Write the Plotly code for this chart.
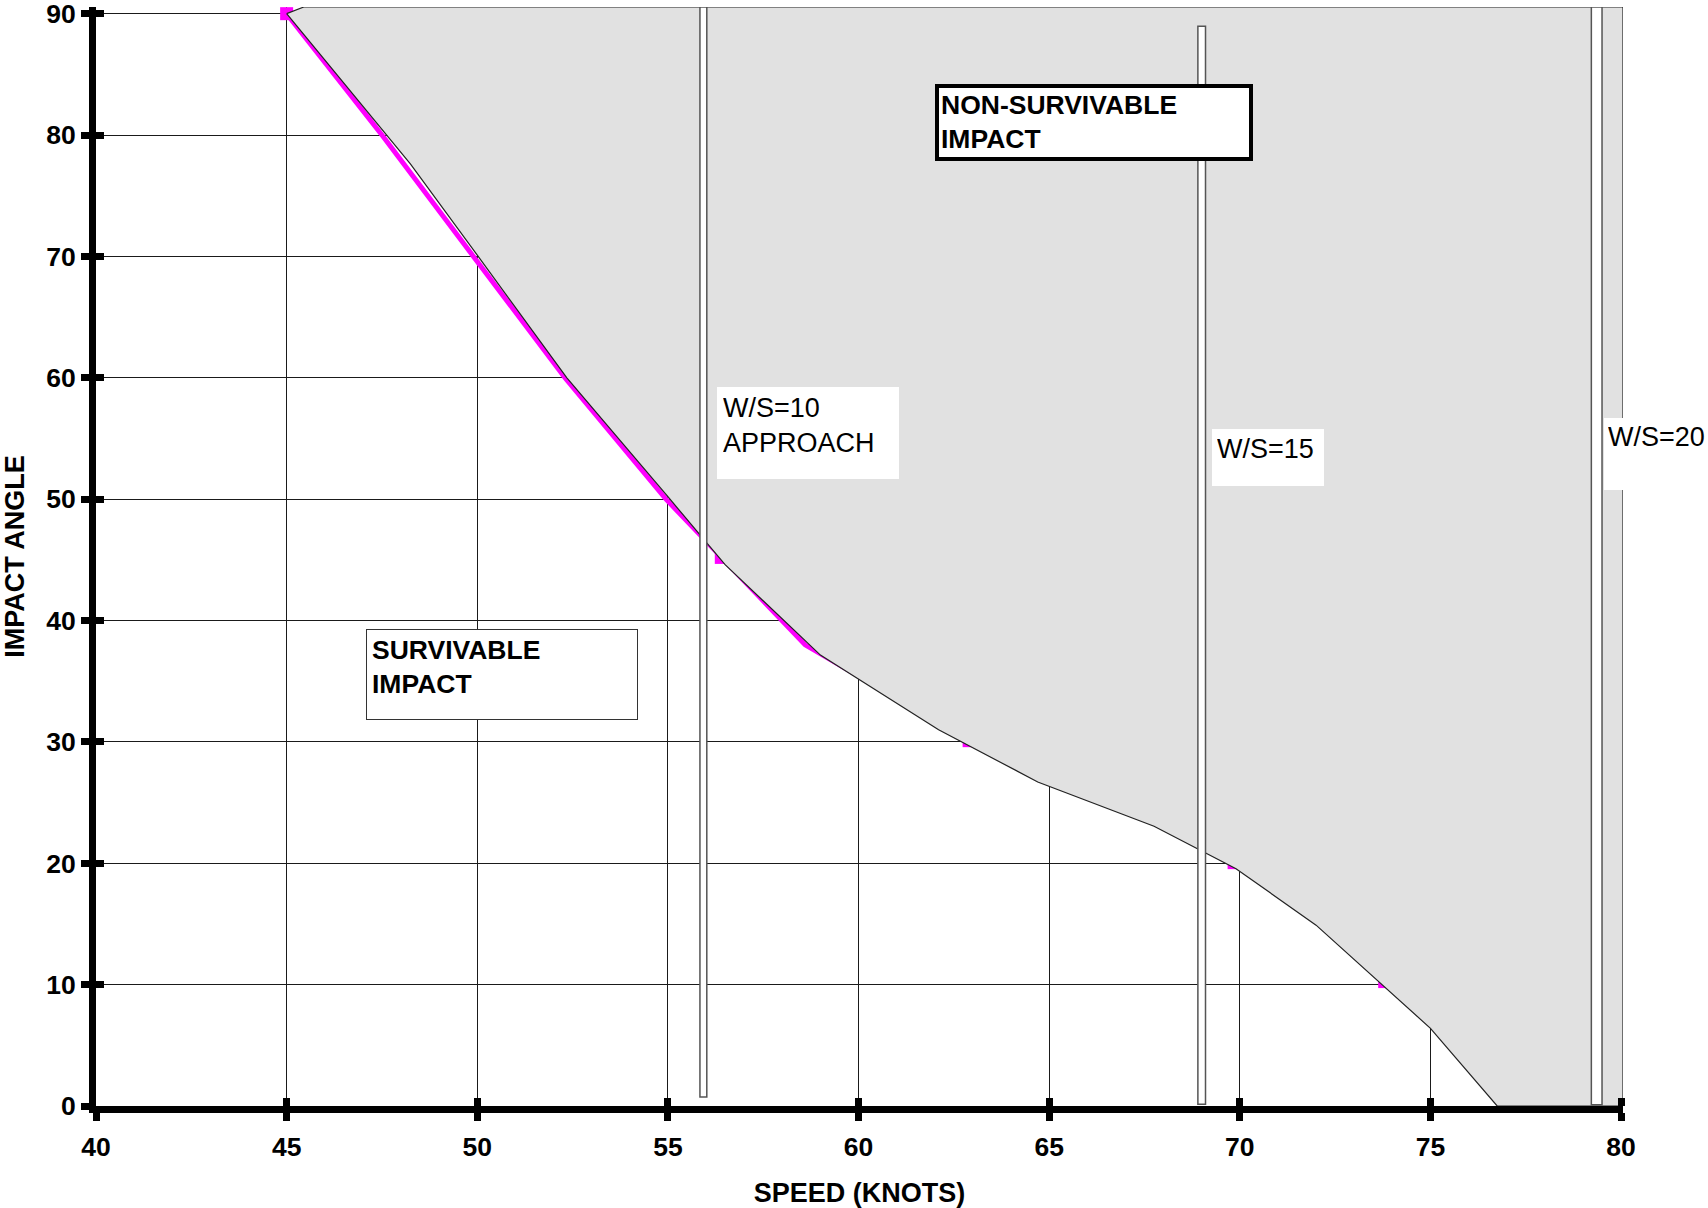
import plotly.graph_objects as go

# ---------------- data ----------------
speed_ticks = [40, 45, 50, 55, 60, 65, 70, 75, 80]
angle_ticks = [0, 10, 20, 30, 40, 50, 60, 70, 80, 90]

# boundary of the non-survivable region (thin black line)
boundary_speed = [45.0, 48.25, 50.0, 52.35, 55.0, 56.5, 59.0, 62.1, 64.7, 67.75, 69.9, 72.0, 75.0, 76.75]
boundary_angle = [90.0, 77.6, 70.1, 60.0, 50.2, 44.6, 37.15, 31.0, 26.7, 23.05, 19.55, 14.9, 6.4, 0.0]
region_top = 90.55
region_right = 80.05
region_top_start = 45.45

# magenta curve and its marked points
curve_speed = [45.0, 47.5, 49.9, 52.3, 54.95, 56.4, 58.6, 62.9, 67.75, 69.85, 72.0, 73.8, 75.0, 77.0]
curve_angle = [90.0, 80.0, 70.0, 60.0, 50.0, 45.2, 38.0, 30.1, 23.5, 20.05, 15.4, 10.25, 6.9, 0.0]
point_speed = [45.0, 56.4, 62.9, 69.85, 73.8, 77.0]
point_angle = [90.0, 45.2, 30.1, 20.05, 10.25, 0.0]

# wing-loading (W/S) bars
ws_labels = ["W/S=10<br>APPROACH<br> ", "W/S=15", "W/S=20"]
ws_left = [55.84, 68.9, 79.22]
ws_right = [56.02, 69.1, 79.5]
ws_bottom = [0.75, 0.15, 0.1]
ws_top = [90.55, 88.97, 90.55]

FONT = "Arial, 'Liberation Sans', sans-serif"

fig = go.Figure()

# magenta curve (drawn first, partially hidden by the region)
fig.add_trace(go.Scatter(
    x=curve_speed, y=curve_angle, mode="lines",
    line=dict(color="#ff00ff", width=5), showlegend=False, hoverinfo="skip"))
fig.add_trace(go.Scatter(
    x=point_speed, y=point_angle, mode="markers", cliponaxis=False,
    marker=dict(symbol="square", size=13, color="#ff00ff"),
    showlegend=False, hoverinfo="skip"))

# non-survivable region
reg_x = boundary_speed + [region_right, region_right, region_top_start, boundary_speed[0]]
reg_y = boundary_angle + [0.0, region_top, region_top, boundary_angle[0]]
fig.add_trace(go.Scatter(
    x=reg_x, y=reg_y, mode="lines", fill="toself", fillcolor="#e1e1e1",
    line=dict(color="#222222", width=1.2), showlegend=False, hoverinfo="skip"))

# empty trace on overlay axes (used for the inner half of the tick marks)
fig.add_trace(go.Scatter(x=[], y=[], xaxis="x2", yaxis="y2", showlegend=False))

# W/S bars
for xl, xr, yb, yt in zip(ws_left, ws_right, ws_bottom, ws_top):
    fig.add_shape(type="rect", xref="x", yref="y", x0=xl, x1=xr, y0=yb, y1=yt,
                  fillcolor="white", line=dict(color="#555555", width=1.5), layer="above")

# labels
def box(text, x, y, w, h, bold, bw, pad, size, bordercolor="black"):
    fig.add_annotation(
        x=x, y=y, xref="x", yref="y", xanchor="left", yanchor="top",
        text=text, showarrow=False, align="left", valign="top",
        width=w, height=h, bgcolor="white", borderwidth=bw, borderpad=pad,
        bordercolor=bordercolor,
        font=dict(family=FONT, size=size, color="black", weight="bold" if bold else "normal"))

box("SURVIVABLE<br>IMPACT", 47.09, 39.27, 260, 79, True, 1, 5, 26.5, "#333333")
box("NON-SURVIVABLE<br>IMPACT", 62.01, 84.24, 306, 65, True, 4, 2, 26.5)
box(ws_labels[0], 56.29, 59.25, 170, 80, False, 0, 6, 27)
box(ws_labels[1], 69.28, 55.77, 102, 47, False, 0, 5, 27)
box(ws_labels[2], 79.56, 56.67, 110, 64, False, 0, 4, 27)

tickfont = dict(family=FONT, size=26.5, color="black", weight="bold")
titlefont = dict(family=FONT, size=27, color="black", weight="bold")

fig.update_layout(
    width=1708, height=1208,
    template="none",
    paper_bgcolor="white", plot_bgcolor="white",
    margin=dict(l=96, r=1708 - 96 - round(38.13 * 40.05), t=7, b=102, pad=0),
    showlegend=False,
    xaxis=dict(
        range=[40, region_right], tickvals=speed_ticks, ticktext=[str(v) for v in speed_ticks],
        showgrid=True, gridcolor="#1a1a1a", gridwidth=1, zeroline=False,
        showline=True, linecolor="black", linewidth=7,
        ticks="outside", ticklen=8, tickwidth=7, tickcolor="black",
        tickfont=tickfont, ticklabelstandoff=3, automargin=False, ticklabeloverflow="allow",
        title=dict(text="SPEED (KNOTS)", font=titlefont, standoff=29)),
    yaxis=dict(
        range=[0, region_top], tickvals=angle_ticks, ticktext=[str(v) for v in angle_ticks],
        showgrid=True, gridcolor="#1a1a1a", gridwidth=1, zeroline=False,
        showline=True, linecolor="black", linewidth=7,
        ticks="outside", ticklen=8, tickwidth=7, tickcolor="black",
        tickfont=tickfont, ticklabelstandoff=0, automargin=False, ticklabeloverflow="allow",
        title=dict(text="IMPACT ANGLE", font=titlefont, standoff=18)),
    xaxis2=dict(
        overlaying="x", anchor="y2", side="bottom", range=[40, region_right], tickvals=speed_ticks,
        showgrid=False, zeroline=False, showline=False, showticklabels=False,
        ticks="inside", ticklen=8, tickwidth=7, tickcolor="black", automargin=False),
    yaxis2=dict(
        overlaying="y", anchor="x2", side="left", range=[0, region_top], tickvals=angle_ticks,
        showgrid=False, zeroline=False, showline=False, showticklabels=False,
        ticks="inside", ticklen=8, tickwidth=7, tickcolor="black", automargin=False),
)

fig.write_html("out.html", config={"displayModeBar": False},
               post_script="document.body.style.margin='0px';document.body.style.overflow='hidden';")
